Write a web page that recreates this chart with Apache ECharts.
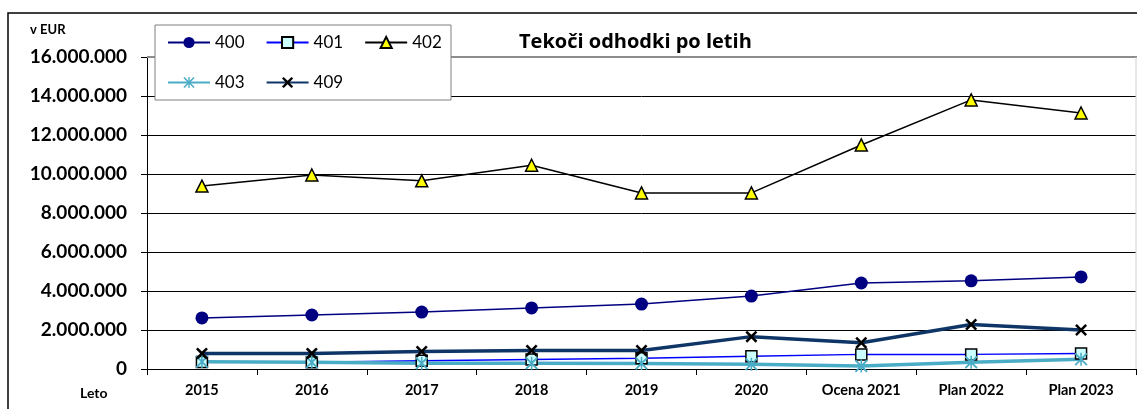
<!DOCTYPE html>
<html>
<head>
<meta charset="utf-8">
<script src="https://cdn.jsdelivr.net/npm/echarts@6/dist/echarts.min.js"></script>
<style>
  html, body { margin: 0; padding: 0; background: #fff; }
  #chart { width: 1137px; height: 409px; }
</style>
</head>
<body>
<div id="chart"></div>
<script>
// kategorije in vrednosti (EUR), odčitano s slike
const years = ['2015', '2016', '2017', '2018', '2019', '2020', 'Ocena 2021', 'Plan 2022', 'Plan 2023'];
const yTicks = [0, 2000000, 4000000, 6000000, 8000000, 10000000, 12000000, 14000000, 16000000];
const s400 = [2620000, 2770000, 2920000, 3130000, 3330000, 3740000, 4410000, 4520000, 4720000];
const s401 = [360000, 350000, 420000, 490000, 550000, 660000, 750000, 750000, 800000];
const s402 = [9380000, 9950000, 9650000, 10450000, 9030000, 9030000, 11490000, 13800000, 13130000];
const s403 = [370000, 350000, 290000, 290000, 280000, 240000, 150000, 340000, 500000];
const s409 = [800000, 800000, 900000, 950000, 950000, 1660000, 1350000, 2280000, 2000000];

const FONT = 'Lato';
const crossPath = 'path://M0,1.5 L1.5,0 L5,3.5 L8.5,0 L10,1.5 L6.5,5 L10,8.5 L8.5,10 L5,6.5 L1.5,10 L0,8.5 L3.5,5 Z';
const starPath = 'path://M4.4,0 L5.6,0 L5.6,10 L4.4,10 Z M0,1 L1,0 L5,4 L9,0 L10,1 L6,5 L10,9 L9,10 L5,6 L1,10 L0,9 L4,5 Z';

function fmt(v) {
  return String(v).replace(/\B(?=(\d{3})+(?!\d))/g, '.');
}

const myChart = echarts.init(document.getElementById('chart'));

const legendText = { fontFamily: FONT, fontSize: 17, color: '#000' };

const option = {
  animation: false,
  backgroundColor: '#fff',
  title: {
    text: 'Tekoči odhodki po letih',
    left: 514,
    top: 27,
    textStyle: { fontFamily: 'Open Sans', fontSize: 20, fontWeight: 'bold', color: '#000' }
  },
  legend: [
    {
      data: ['400', '401', '402'],
      left: 167,
      top: 34,
      itemWidth: 42,
      itemHeight: 14,
      itemGap: 21,
      padding: 0,
      textStyle: legendText
    },
    {
      data: ['403', '409'],
      left: 167,
      top: 74,
      itemWidth: 42,
      itemHeight: 14,
      itemGap: 21,
      padding: 0,
      textStyle: legendText
    }
  ],
  grid: {
    left: 147,
    right: 1,
    top: 57,
    bottom: 40
  },
  xAxis: {
    type: 'category',
    data: years,
    boundaryGap: true,
    axisLine: { lineStyle: { color: '#000', width: 1 } },
    axisTick: { show: true, length: 6, interval: 0, lineStyle: { color: '#000' } },
    axisLabel: {
      interval: 0,
      margin: 14,
      fontFamily: FONT,
      fontSize: 14.5,
      fontWeight: 'bold',
      color: '#000'
    },
    splitLine: { show: false }
  },
  yAxis: {
    type: 'value',
    min: yTicks[0],
    max: yTicks[yTicks.length - 1],
    interval: yTicks[1] - yTicks[0],
    axisLine: { show: true, lineStyle: { color: '#000', width: 1 } },
    axisTick: { show: true, length: 6, lineStyle: { color: '#000' } },
    axisLabel: {
      margin: 20,
      fontFamily: FONT,
      fontSize: 19,
      fontWeight: 'bold',
      color: '#000',
      formatter: fmt
    },
    splitLine: { show: true, lineStyle: { color: '#000', width: 1 } }
  },
  series: [
    {
      name: '400',
      type: 'line',
      data: s400,
      symbol: 'circle',
      symbolSize: 13,
      lineStyle: { color: '#000080', width: 1.5 },
      itemStyle: { color: '#000080' }
    },
    {
      name: '401',
      type: 'line',
      data: s401,
      symbol: 'rect',
      symbolSize: 11,
      lineStyle: { color: '#0000ff', width: 1.5 },
      itemStyle: { color: '#ccffff', borderColor: '#000', borderWidth: 1.5 }
    },
    {
      name: '402',
      type: 'line',
      data: s402,
      symbol: 'triangle',
      symbolSize: 12,
      lineStyle: { color: '#000', width: 1.5 },
      itemStyle: { color: '#ffff00', borderColor: '#000', borderWidth: 1.5 }
    },
    {
      name: '403',
      type: 'line',
      data: s403,
      symbol: starPath,
      symbolSize: 13,
      lineStyle: { color: '#4bacc6', width: 3.5 },
      itemStyle: { color: '#4bacc6' }
    },
    {
      name: '409',
      type: 'line',
      data: s409,
      symbol: crossPath,
      symbolSize: 12,
      lineStyle: { color: '#0f3566', width: 3.5 },
      itemStyle: { color: '#000' }
    }
  ],
  graphic: [
    // zunanji okvir
    {
      type: 'rect',
      z: 10,
      shape: { x: 8, y: 13, width: 1150, height: 420 },
      style: { fill: 'none', stroke: '#000', lineWidth: 1.5 }
    },
    // okvir risalne površine
    {
      type: 'line',
      z: 1,
      shape: { x1: 147, y1: 57, x2: 1137, y2: 57 },
      style: { stroke: '#8c8c8c', lineWidth: 2 }
    },
    {
      type: 'line',
      z: 1,
      shape: { x1: 1136, y1: 57, x2: 1136, y2: 369 },
      style: { stroke: '#d0d0d0', lineWidth: 1 }
    },
    // okvir legende
    {
      type: 'rect',
      z: 3,
      shape: { x: 155, y: 25, width: 296, height: 75 },
      style: { fill: '#fff', stroke: '#808080', lineWidth: 1 }
    },
    {
      type: 'text',
      z: 3,
      left: 30,
      top: 23,
      style: { text: 'v EUR', fontFamily: FONT, fontSize: 13, fontWeight: 'bold', fill: '#000' }
    },
    {
      type: 'text',
      z: 3,
      left: 80,
      top: 386,
      style: { text: 'Leto', fontFamily: FONT, fontSize: 14, fontWeight: 'bold', fill: '#000' }
    }
  ]
};

myChart.setOption(option);
</script>
</body>
</html>
